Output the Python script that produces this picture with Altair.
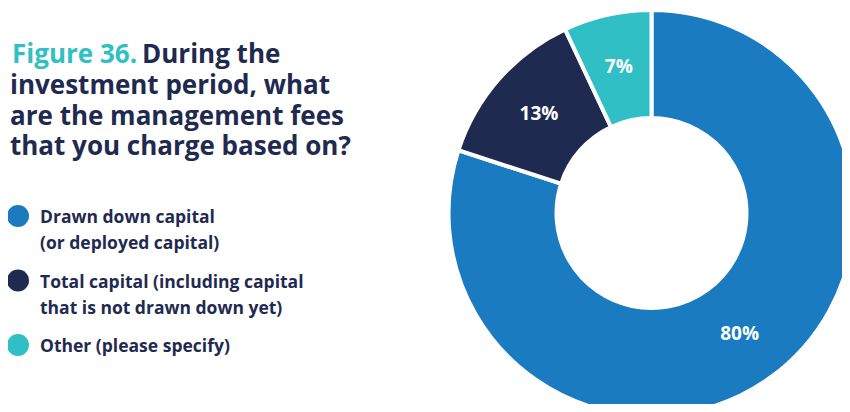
import altair as alt
import pandas as pd

SP = "\u2009"
categories = ["Drawn down capital (or deployed capital)",
              "Total capital (including capital that is not drawn down yet)",
              "Other (please specify)"]
legend_lines = [SP + "Drawn down capital\n(or deployed capital)",
                "Total capital (including capital\n" + SP + "that is not drawn down yet)",
                "Other (please specify)"]
shares = [80, 13, 7]
colors = ["#1a7bc1", "#1f2a50", "#30bfc4"]
DARK = "#1f2a50"
TEAL = "#30bfc4"

df = pd.DataFrame({
    "category": categories,
    "share": shares,
    "order": list(range(len(categories))),
    "label": [f"{v}%" for v in shares],
    "legend": legend_lines,
})

CX, CY = 643.5, 205
color = alt.Color("category:N", scale=alt.Scale(domain=categories, range=colors), legend=None)

arc = alt.Chart(df).mark_arc(outerRadius=203, innerRadius=95, stroke="white", strokeWidth=4).encode(
    theta=alt.Theta("share:Q", stack=True),
    order=alt.Order("order:Q"),
    color=color,
    x=alt.value(CX), y=alt.value(CY),
)

labels = alt.Chart(df).mark_text(radius=150, fontSize=19, fontWeight="bold", font="Open Sans",
                                 color="white").encode(
    theta=alt.Theta("share:Q", stack=True),
    order=alt.Order("order:Q"),
    text="label:N",
    x=alt.value(CX), y=alt.value(CY),
)

ly = alt.Y("order:Q", scale=alt.Scale(domain=[0, 2], range=[208, 337]), axis=None)
leg_pts = alt.Chart(df).mark_point(filled=True, shape="circle", size=484, opacity=1).encode(
    x=alt.value(10), y=ly, color=color,
)
leg_txt = alt.Chart(df).mark_text(align="left", baseline="alphabetic", dy=7, fontSize=17.5,
                                  fontWeight="bold", font="Open Sans", color=DARK,
                                  lineBreak="\n", lineHeight=26).encode(
    x=alt.value(32), y=ly, text="legend:N",
)

one = alt.Data(values=[{}])
tstyle = dict(align="left", baseline="alphabetic", fontSize=26, fontWeight="bold", font="Open Sans")
title_a = alt.Chart(one).mark_text(color=TEAL, text="Figure 36.", **tstyle).encode(
    x=alt.value(4), y=alt.value(55))
title_b = alt.Chart(one).mark_text(color=DARK, text="During the", **tstyle).encode(
    x=alt.value(134), y=alt.value(55))
title_c = alt.Chart(one).mark_text(color=DARK, lineHeight=30.7, lineBreak="\n",
                                   text="investment period, what\nare the management fees\nthat you charge based on?",
                                   **tstyle).encode(
    x=alt.value(2), y=alt.value(86))

chart = alt.layer(arc, labels, leg_pts, leg_txt, title_a, title_b, title_c).properties(
    width=834, height=396, autosize=alt.AutoSizeParams(type="none"), padding=0,
).configure_view(stroke=None)

chart.save("out.html", embed_options={"renderer": "svg", "actions": False})
